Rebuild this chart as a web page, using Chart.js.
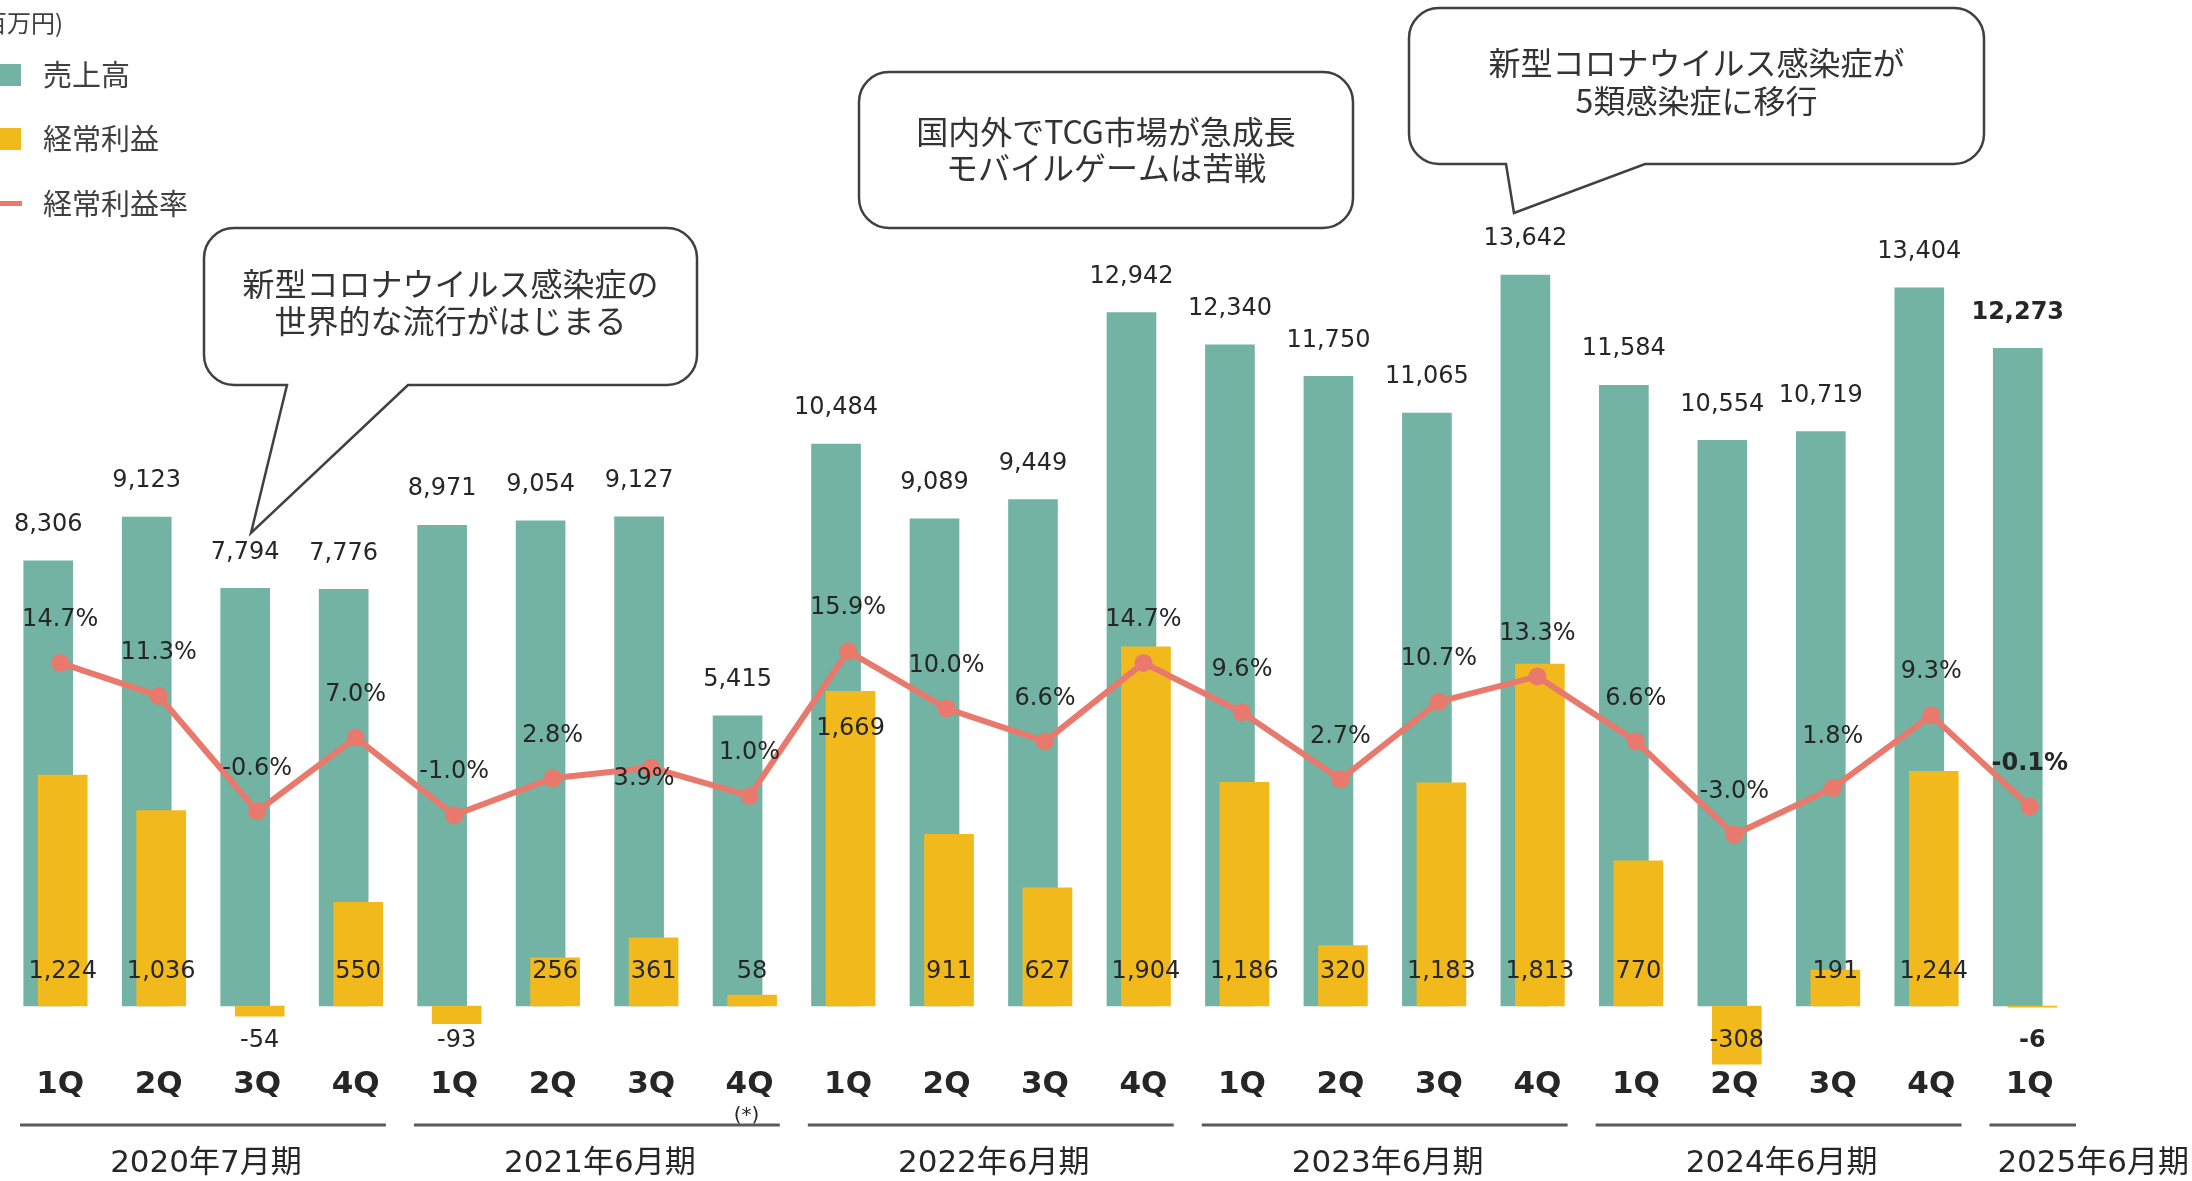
<!DOCTYPE html>
<html lang="ja">
<head>
<meta charset="utf-8">
<title>売上高・経常利益・経常利益率 四半期推移</title>
<script src="https://cdn.jsdelivr.net/npm/chart.js@4.4.1/dist/chart.umd.min.js"></script>
<style>
  html, body { margin: 0; padding: 0; background: #fff; }
</style>
</head>
<body>
<canvas id="resultChart" width="2192" height="1181"></canvas>
<script>
// quarterly data (百万円 / %)
const quarters = ["1Q", "2Q", "3Q", "4Q", "1Q", "2Q", "3Q", "4Q", "1Q", "2Q", "3Q", "4Q",
  "1Q", "2Q", "3Q", "4Q", "1Q", "2Q", "3Q", "4Q", "1Q"];
const fiscalYears = ["2020年7月期", "2021年6月期", "2022年6月期", "2023年6月期", "2024年6月期", "2025年6月期"];
const quartersPerYear = [4, 4, 4, 4, 4, 1];
const sales = [8306, 9123, 7794, 7776, 8971, 9054, 9127, 5415, 10484, 9089, 9449, 12942,
  12340, 11750, 11065, 13642, 11584, 10554, 10719, 13404, 12273];
const ordinaryProfit = [1224, 1036, -54, 550, -93, 256, 361, 58, 1669, 911, 627, 1904,
  1186, 320, 1183, 1813, 770, -308, 191, 1244, -6];
const profitRate = [14.7, 11.3, -0.6, 7.0, -1.0, 2.8, 3.9, 1.0, 15.9, 10.0, 6.6, 14.7,
  9.6, 2.7, 10.7, 13.3, 6.6, -3.0, 1.8, 9.3, -0.1];

const TEAL = "#72B3A3";
const GOLD = "#F2B91C";
const SALMON = "#E8796C";
const TEXT = "#262626";
const NUM_FONT = '"DejaVu Sans", "Noto Sans CJK JP", sans-serif';
const JP_FONT = '"Noto Sans CJK JP", "DejaVu Sans", sans-serif';

// speech bubbles
const callouts = [
  { lines: ["新型コロナウイルス感染症の", "世界的な流行がはじまる"],
    box: [204, 228, 697, 385], tail: [287, 408, 251, 533], textY: [284, 321] },
  { lines: ["国内外でTCG市場が急成長", "モバイルゲームは苦戦"],
    box: [859, 72, 1353, 228], tail: null, textY: [132, 168] },
  { lines: ["新型コロナウイルス感染症が", "5類感染症に移行"],
    box: [1409, 8, 1984, 164], tail: [1506, 1645, 1514, 213], textY: [63, 101] }
];

// bars are drawn a little off the category centre (teal left, gold right)
const barShift = { 0: -12, 1: 2.5 };

const shiftPlugin = {
  id: "shiftPlugin",
  beforeDatasetDraw(chart, args) {
    chart.ctx.save();
    chart.ctx.translate(barShift[args.index] || 0, 0);
  },
  afterDatasetDraw(chart) {
    chart.ctx.restore();
  }
};

const labelPlugin = {
  id: "labelPlugin",
  afterDatasetsDraw(chart) {
    const ctx = chart.ctx;
    const last = sales.length - 1;
    const font = (i) => (i === last ? "bold " : "") + "24px " + NUM_FONT;
    ctx.save();
    ctx.textAlign = "center";
    ctx.textBaseline = "middle";
    ctx.fillStyle = TEXT;

    chart.getDatasetMeta(0).data.forEach((bar, i) => {
      ctx.font = font(i);
      ctx.fillText(sales[i].toLocaleString("en-US"), bar.x + barShift[0], bar.y - 36);
    });

    const base = chart.scales.y2.getPixelForValue(0);
    chart.getDatasetMeta(1).data.forEach((bar, i) => {
      const v = ordinaryProfit[i];
      let y = base - 34;
      if (v < 0) y = base + 35;
      else if (i === 8) y = bar.y + 38;
      ctx.font = font(i);
      ctx.fillText(v.toLocaleString("en-US"), bar.x + barShift[1], y);
    });

    chart.getDatasetMeta(2).data.forEach((pt, i) => {
      let x = pt.x, y = pt.y - 43;
      if (i === 6) { x -= 7; y = pt.y + 11; }
      if (i === 18) y = pt.y - 51;
      ctx.font = font(i);
      ctx.fillText(profitRate[i].toFixed(1) + "%", x, y);
    });
    ctx.restore();
  }
};

const decorPlugin = {
  id: "decorPlugin",
  afterDraw(chart) {
    const { ctx, scales: { x }, chartArea } = chart;
    ctx.save();

    // fiscal year groups under the quarter labels
    const half = (x.getPixelForValue(1) - x.getPixelForValue(0)) / 2;
    let start = 0;
    fiscalYears.forEach((label, g) => {
      const end = start + quartersPerYear[g] - 1;
      const isLast = g === fiscalYears.length - 1;
      const left = x.getPixelForValue(start) - half + 9;
      const right = isLast ? chartArea.right - 3 : x.getPixelForValue(end) + half - 19;
      ctx.strokeStyle = "#5a5a5a";
      ctx.lineWidth = 3;
      ctx.beginPath();
      ctx.moveTo(left, 1125);
      ctx.lineTo(right, 1125);
      ctx.stroke();

      ctx.font = "31px " + NUM_FONT;
      ctx.fillStyle = TEXT;
      ctx.textBaseline = "middle";
      if (isLast) {
        ctx.textAlign = "right";
        ctx.fillText(label, chart.width - 3, 1164);
      } else {
        ctx.textAlign = "center";
        ctx.fillText(label, (left + right) / 2 + 3, 1164);
      }
      start = end + 1;
    });

    ctx.textAlign = "center";
    ctx.font = "20px " + NUM_FONT;
    ctx.fillText("(*)", x.getPixelForValue(7) - 3, 1116);

    // legend
    ctx.font = "24px " + JP_FONT;
    ctx.fillStyle = "#404040";
    ctx.textAlign = "right";
    ctx.fillText("(百万円)", 63, 23);
    ctx.textAlign = "left";
    ctx.font = "29px " + JP_FONT;
    ctx.fillStyle = TEAL;
    ctx.fillRect(-1, 64, 22, 22);
    ctx.fillStyle = GOLD;
    ctx.fillRect(-1, 128, 22, 22);
    ctx.fillStyle = SALMON;
    ctx.fillRect(0, 201, 22, 5);
    ctx.fillStyle = "#404040";
    chart.data.datasets.forEach((ds, i) => {
      ctx.fillText(ds.label, 43, [75, 139, 204][i]);
    });

    // speech bubbles
    callouts.forEach((c) => {
      const [x0, y0, x1, y1] = c.box;
      const r = 30;
      ctx.beginPath();
      ctx.moveTo(x0 + r, y0);
      ctx.lineTo(x1 - r, y0);
      ctx.arcTo(x1, y0, x1, y0 + r, r);
      ctx.lineTo(x1, y1 - r);
      ctx.arcTo(x1, y1, x1 - r, y1, r);
      if (c.tail) {
        ctx.lineTo(c.tail[1], y1);
        ctx.lineTo(c.tail[2], c.tail[3]);
        ctx.lineTo(c.tail[0], y1);
      }
      ctx.lineTo(x0 + r, y1);
      ctx.arcTo(x0, y1, x0, y1 - r, r);
      ctx.lineTo(x0, y0 + r);
      ctx.arcTo(x0, y0, x0 + r, y0, r);
      ctx.closePath();
      ctx.fillStyle = "#fff";
      ctx.fill();
      ctx.strokeStyle = "#404040";
      ctx.lineWidth = 2.5;
      ctx.stroke();

      ctx.fillStyle = "#333";
      ctx.font = "32px " + JP_FONT;
      ctx.textAlign = "center";
      c.lines.forEach((t, k) => ctx.fillText(t, (x0 + x1) / 2, c.textY[k]));
    });
    ctx.restore();
  }
};

const ctx = document.getElementById("resultChart").getContext("2d");
const resultChart = new Chart(ctx, {
  type: "bar",
  data: {
    labels: quarters,
    datasets: [
      {
        label: "売上高",
        data: sales,
        backgroundColor: TEAL,
        yAxisID: "y",
        grouped: false,
        barThickness: 49,
        clip: false,
        order: 2
      },
      {
        label: "経常利益",
        data: ordinaryProfit,
        backgroundColor: GOLD,
        yAxisID: "y2",
        grouped: false,
        barThickness: 49,
        clip: false,
        order: 1
      },
      {
        type: "line",
        label: "経常利益率",
        data: profitRate,
        borderColor: SALMON,
        backgroundColor: SALMON,
        borderWidth: 6,
        pointRadius: 9,
        pointBorderWidth: 0,
        pointBackgroundColor: SALMON,
        tension: 0,
        yAxisID: "y3",
        clip: false,
        order: 0
      }
    ]
  },
  options: {
    responsive: false,
    devicePixelRatio: 1,
    animation: false,
    layout: { padding: { left: 11, right: 113, top: 20, bottom: 0 } },
    plugins: {
      legend: { display: false },
      tooltip: { enabled: false }
    },
    scales: {
      x: {
        offset: true,
        grid: { display: false, drawTicks: false },
        border: { display: false },
        ticks: {
          color: TEXT,
          padding: 0,
          maxRotation: 0,
          autoSkip: false,
          font: { family: "DejaVu Sans", size: 31, weight: "bold" }
        },
        afterFit: function (scale) {
          scale.height = 115;
        }
      },
      y: { display: false, min: -1120, max: 18400 },
      y2: { display: false, min: -318, max: 5228 },
      y3: { display: false, min: -26.86, max: 80.98 }
    }
  },
  plugins: [shiftPlugin, labelPlugin, decorPlugin]
});
</script>
</body>
</html>
